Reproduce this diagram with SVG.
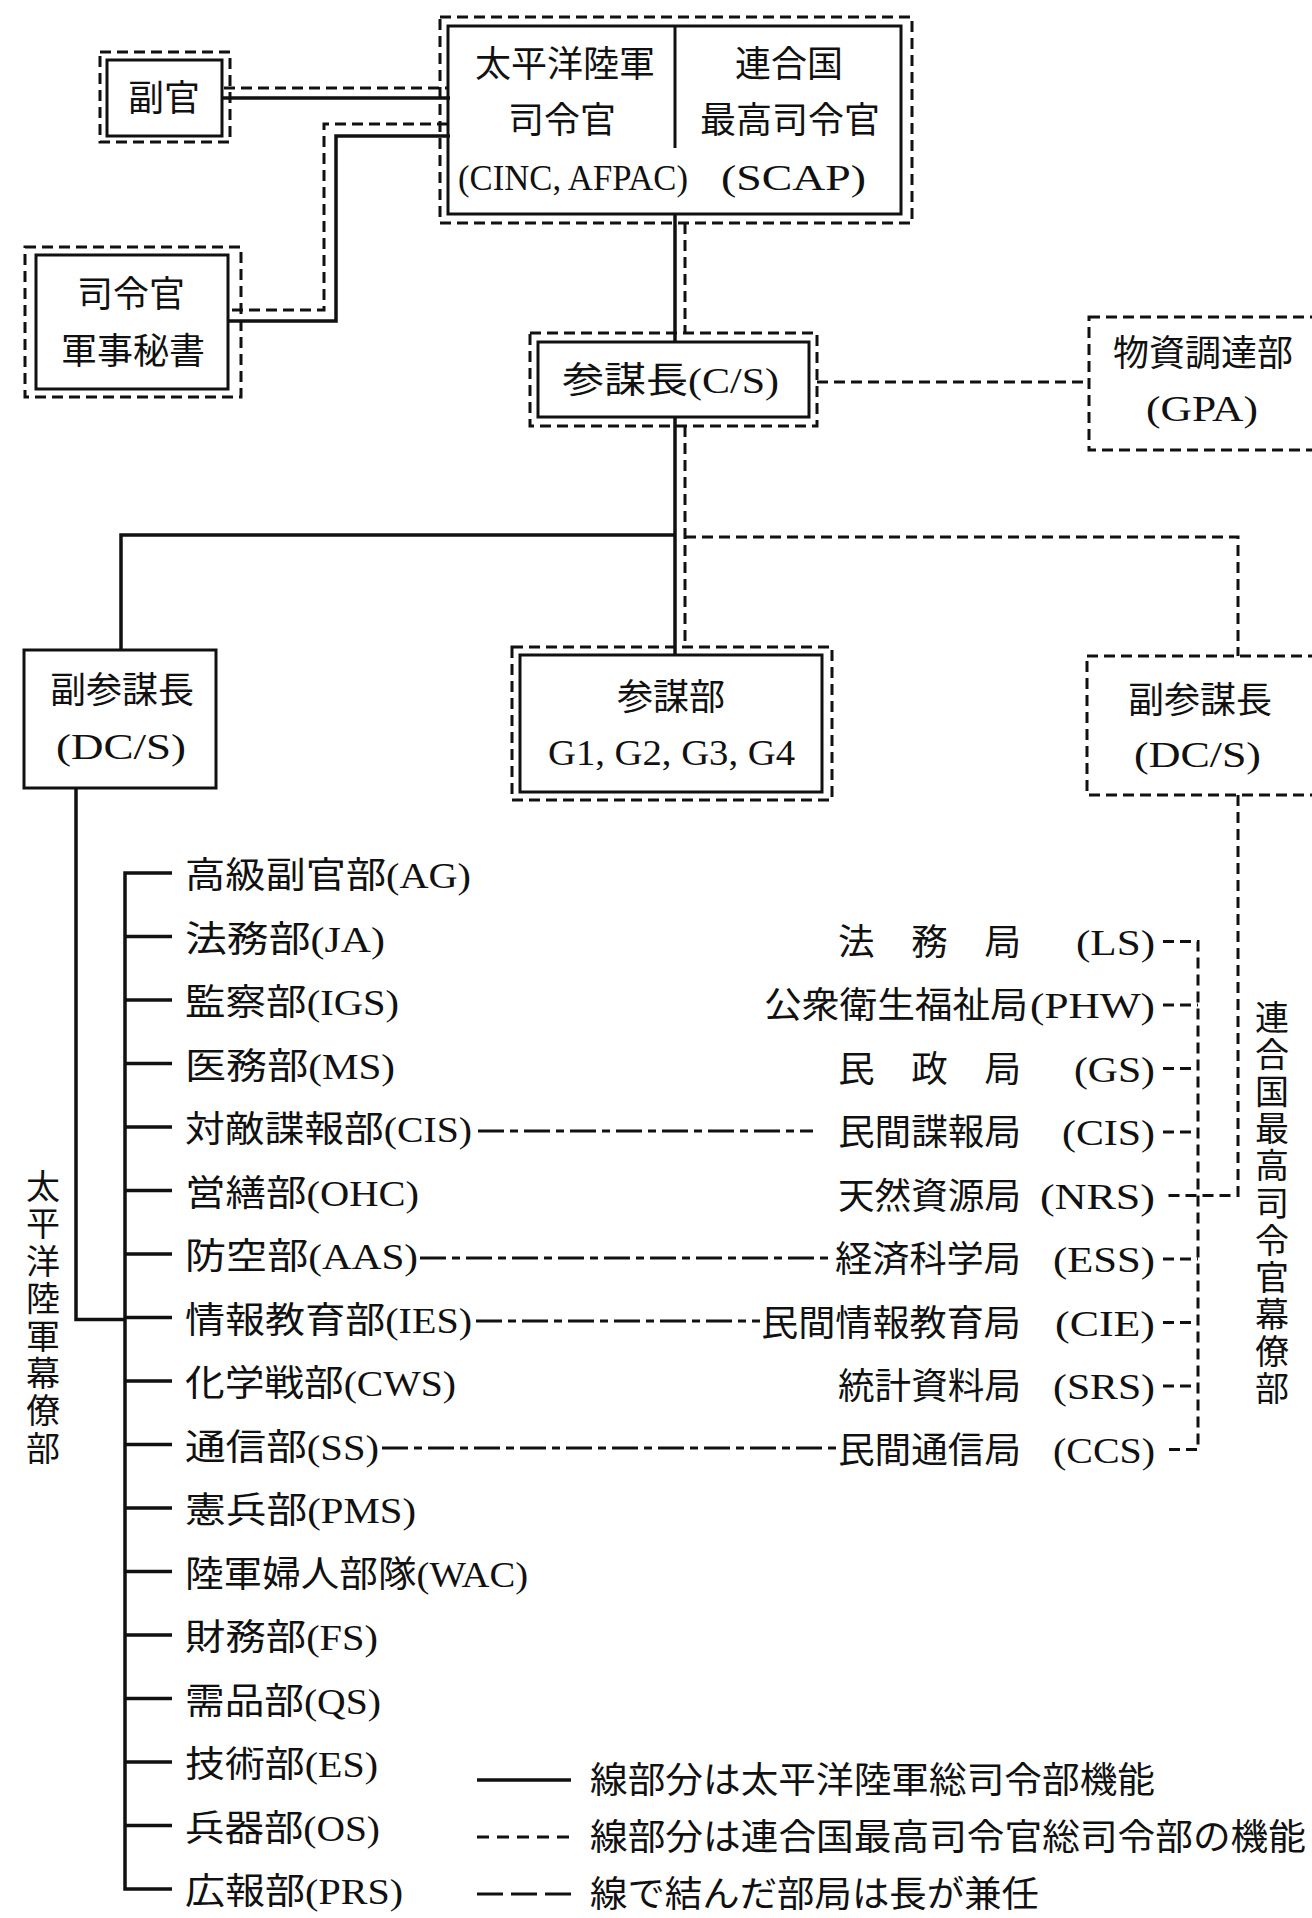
<svg xmlns="http://www.w3.org/2000/svg" width="1312" height="1918" viewBox="0 0 1312 1918">
<style>
.s{fill:none;stroke:#111;stroke-width:3.5}
.b{fill:none;stroke:#111;stroke-width:3}
.d{fill:none;stroke:#111;stroke-width:3;stroke-dasharray:11 6}
.c{fill:none;stroke:#111;stroke-width:3;stroke-dasharray:26 6 8 6}
text{font-family:"Liberation Serif","Noto Sans CJK JP",serif;font-size:36px;fill:#111}
.m{text-anchor:middle}
.v{font-size:34px;text-anchor:middle}
</style>
<rect width="1312" height="1918" fill="#fff"/>
<g id="connectors">
<path class="d" d="M224 88H448"/>
<path class="s" d="M222 98H450"/>
<path class="d" d="M448 124H324V310H230"/>
<path class="s" d="M450 136H336V321H228"/>
<path class="s" d="M675 214V342"/>
<path class="d" d="M685 223V333"/>
<path class="d" d="M817 382H1089"/>
<path class="s" d="M675 417V655"/>
<path class="d" d="M685 426V647"/>
<path class="s" d="M121 650V535H675"/>
<path class="d" d="M685 537H1238V656"/>
<path class="s" d="M76 788V1319.5H125"/>
<path class="s" d="M172 873H125V1889H172"/>
<path class="s" d="M125 936.5H172M125 1000H172M125 1063.5H172M125 1127H172M125 1190.5H172M125 1254H172M125 1317.5H172M125 1381H172M125 1444.5H172M125 1508H172M125 1571.5H172M125 1635H172M125 1698.5H172M125 1762H172M125 1825.5H172"/>
<path class="d" d="M1238 795V1195.5H1163"/>
<path class="d" d="M1163 941.5H1198V1449.5H1163"/>
<path class="d" d="M1163 1005H1198M1163 1068.5H1198M1163 1132H1198M1163 1259H1198M1163 1322.5H1198M1163 1386H1198"/>
<path class="c" d="M478 1131H813"/>
<path class="c" d="M420 1258H834"/>
<path class="c" d="M476 1321H760"/>
<path class="c" d="M382 1448H836"/>
</g>
<g id="n-fukkan">
<rect class="d" x="100" y="52" width="130" height="90"/>
<rect class="b" x="107" y="60" width="115" height="76"/>
<text class="m" x="164" y="111">副官</text>
</g>
<g id="n-commander">
<rect class="d" x="440" y="17" width="472" height="206"/>
<rect class="b" x="448" y="26" width="453" height="188"/>
<path class="b" d="M675 26V148"/>
<text class="m" x="565" y="77">太平洋陸軍</text>
<text class="m" x="562" y="133">司令官</text>
<text x="458" y="190" textLength="230" lengthAdjust="spacingAndGlyphs">(CINC, AFPAC)</text>
<text class="m" x="789" y="77">連合国</text>
<text class="m" x="790" y="133">最高司令官</text>
<text x="721" y="190" textLength="145" lengthAdjust="spacingAndGlyphs">(SCAP)</text>
</g>
<g id="n-secretary">
<rect class="d" x="25" y="247" width="216" height="150"/>
<rect class="b" x="36" y="255" width="192" height="134"/>
<text class="m" x="131" y="307">司令官</text>
<text class="m" x="133" y="364">軍事秘書</text>
</g>
<g id="n-chief-of-staff">
<rect class="d" x="530" y="333" width="287" height="93"/>
<rect class="b" x="538" y="342" width="271" height="75"/>
<text x="562" y="393" textLength="217" lengthAdjust="spacingAndGlyphs">参謀長(C/S)</text>
</g>
<g id="n-gpa">
<rect class="d" x="1089" y="317" width="260" height="133"/>
<text class="m" x="1203" y="366">物資調達部</text>
<text x="1146" y="421" textLength="112" lengthAdjust="spacingAndGlyphs">(GPA)</text>
</g>
<g id="n-dcs-left">
<rect class="b" x="24" y="650" width="192" height="138"/>
<text class="m" x="122" y="703">副参謀長</text>
<text x="56" y="759" textLength="130" lengthAdjust="spacingAndGlyphs">(DC/S)</text>
</g>
<g id="n-general-staff">
<rect class="d" x="512" y="647" width="320" height="153"/>
<rect class="b" x="520" y="655" width="302" height="137"/>
<text class="m" x="671" y="710">参謀部</text>
<text x="548" y="765" textLength="247" lengthAdjust="spacingAndGlyphs">G1, G2, G3, G4</text>
</g>
<g id="n-dcs-right">
<rect class="d" x="1087" y="656" width="260" height="139"/>
<text class="m" x="1200" y="713">副参謀長</text>
<text x="1134" y="767" textLength="127" lengthAdjust="spacingAndGlyphs">(DC/S)</text>
</g>
<g id="afpac-sections">
<g id="n-ag"><text x="185" y="888" textLength="286" lengthAdjust="spacingAndGlyphs">高級副官部(AG)</text></g>
<g id="n-ja"><text x="185" y="951.5" textLength="200" lengthAdjust="spacingAndGlyphs">法務部(JA)</text></g>
<g id="n-igs"><text x="185" y="1015" textLength="214" lengthAdjust="spacingAndGlyphs">監察部(IGS)</text></g>
<g id="n-ms"><text x="185" y="1078.5" textLength="210" lengthAdjust="spacingAndGlyphs">医務部(MS)</text></g>
<g id="n-cis-a"><text x="185" y="1142" textLength="287" lengthAdjust="spacingAndGlyphs">対敵諜報部(CIS)</text></g>
<g id="n-ohc"><text x="185" y="1205.5" textLength="234" lengthAdjust="spacingAndGlyphs">営繕部(OHC)</text></g>
<g id="n-aas"><text x="185" y="1269" textLength="233" lengthAdjust="spacingAndGlyphs">防空部(AAS)</text></g>
<g id="n-ies"><text x="185" y="1332.5" textLength="287" lengthAdjust="spacingAndGlyphs">情報教育部(IES)</text></g>
<g id="n-cws"><text x="185" y="1396" textLength="271" lengthAdjust="spacingAndGlyphs">化学戦部(CWS)</text></g>
<g id="n-ss"><text x="185" y="1459.5" textLength="194" lengthAdjust="spacingAndGlyphs">通信部(SS)</text></g>
<g id="n-pms"><text x="185" y="1523" textLength="231" lengthAdjust="spacingAndGlyphs">憲兵部(PMS)</text></g>
<g id="n-wac"><text x="185" y="1586.5" textLength="343" lengthAdjust="spacingAndGlyphs">陸軍婦人部隊(WAC)</text></g>
<g id="n-fs"><text x="185" y="1650" textLength="193" lengthAdjust="spacingAndGlyphs">財務部(FS)</text></g>
<g id="n-qs"><text x="185" y="1713.5" textLength="196" lengthAdjust="spacingAndGlyphs">需品部(QS)</text></g>
<g id="n-es"><text x="185" y="1777" textLength="193" lengthAdjust="spacingAndGlyphs">技術部(ES)</text></g>
<g id="n-os"><text x="185" y="1840.5" textLength="195" lengthAdjust="spacingAndGlyphs">兵器部(OS)</text></g>
<g id="n-prs"><text x="185" y="1904" textLength="218" lengthAdjust="spacingAndGlyphs">広報部(PRS)</text></g>
</g>
<g id="scap-sections">
<g id="n-ls"><text x="838" y="954.5" textLength="183" lengthAdjust="spacingAndGlyphs">法　務　局</text><text x="1076" y="954.5" textLength="79" lengthAdjust="spacingAndGlyphs">(LS)</text></g>
<g id="n-phw"><text x="764" y="1018" textLength="264" lengthAdjust="spacingAndGlyphs">公衆衛生福祉局</text><text x="1030" y="1018" textLength="125" lengthAdjust="spacingAndGlyphs">(PHW)</text></g>
<g id="n-gs"><text x="838" y="1081.5" textLength="183" lengthAdjust="spacingAndGlyphs">民　政　局</text><text x="1074" y="1081.5" textLength="81" lengthAdjust="spacingAndGlyphs">(GS)</text></g>
<g id="n-cis-s"><text x="838" y="1145" textLength="183" lengthAdjust="spacingAndGlyphs">民間諜報局</text><text x="1062" y="1145" textLength="93" lengthAdjust="spacingAndGlyphs">(CIS)</text></g>
<g id="n-nrs"><text x="838" y="1208.5" textLength="183" lengthAdjust="spacingAndGlyphs">天然資源局</text><text x="1040" y="1208.5" textLength="115" lengthAdjust="spacingAndGlyphs">(NRS)</text></g>
<g id="n-ess"><text x="835" y="1272" textLength="186" lengthAdjust="spacingAndGlyphs">経済科学局</text><text x="1053" y="1272" textLength="102" lengthAdjust="spacingAndGlyphs">(ESS)</text></g>
<g id="n-cie"><text x="761" y="1335.5" textLength="260" lengthAdjust="spacingAndGlyphs">民間情報教育局</text><text x="1055" y="1335.5" textLength="100" lengthAdjust="spacingAndGlyphs">(CIE)</text></g>
<g id="n-srs"><text x="838" y="1399" textLength="183" lengthAdjust="spacingAndGlyphs">統計資料局</text><text x="1053" y="1399" textLength="102" lengthAdjust="spacingAndGlyphs">(SRS)</text></g>
<g id="n-ccs"><text x="838" y="1462.5" textLength="183" lengthAdjust="spacingAndGlyphs">民間通信局</text><text x="1053" y="1462.5" textLength="102" lengthAdjust="spacingAndGlyphs">(CCS)</text></g>
</g>
<g id="side-labels">
<text class="v"><tspan x="43" y="1199">太</tspan><tspan x="43" y="1236">平</tspan><tspan x="43" y="1274">洋</tspan><tspan x="43" y="1311">陸</tspan><tspan x="43" y="1349">軍</tspan><tspan x="43" y="1386">幕</tspan><tspan x="43" y="1423">僚</tspan><tspan x="43" y="1461">部</tspan></text>
<text class="v"><tspan x="1272" y="1030">連</tspan><tspan x="1272" y="1067">合</tspan><tspan x="1272" y="1104">国</tspan><tspan x="1272" y="1141">最</tspan><tspan x="1272" y="1178">高</tspan><tspan x="1272" y="1216">司</tspan><tspan x="1272" y="1253">令</tspan><tspan x="1272" y="1290">官</tspan><tspan x="1272" y="1327">幕</tspan><tspan x="1272" y="1364">僚</tspan><tspan x="1272" y="1401">部</tspan></text>
</g>
<g id="legend">
<path class="s" d="M477 1780H571"/>
<path class="d" style="stroke-dasharray:12 8" d="M477 1837H571"/>
<path class="d" style="stroke-dasharray:26 8" d="M477 1894H571"/>
<text x="590" y="1793" textLength="565" lengthAdjust="spacingAndGlyphs">線部分は太平洋陸軍総司令部機能</text>
<text x="590" y="1850" textLength="716" lengthAdjust="spacingAndGlyphs">線部分は連合国最高司令官総司令部の機能</text>
<text x="590" y="1907" textLength="449" lengthAdjust="spacingAndGlyphs">線で結んだ部局は長が兼任</text>
</g>
</svg>
